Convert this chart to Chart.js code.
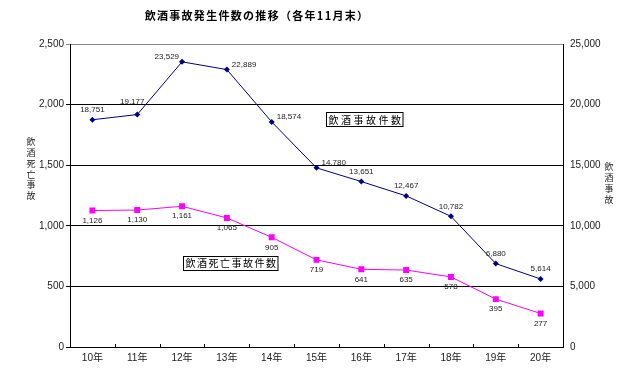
<!DOCTYPE html>
<html><head><meta charset="utf-8">
<script src="https://cdn.jsdelivr.net/npm/chart.js@4/dist/chart.umd.min.js"></script>
<style>html,body{margin:0;padding:0;background:#fff;}#wrap{width:642px;height:385px;}</style>
</head><body><div id="wrap"><canvas id="c" width="642" height="385"></canvas></div>
<script>
const categories = ['10年','11年','12年','13年','14年','15年','16年','17年','18年','19年','20年'];
const accidentCounts = [18751,19177,23529,22889,18574,14780,13651,12467,10782,6880,5614];
const fatalCounts = [1126,1130,1161,1065,905,719,641,635,578,395,277];
const leftTickValues = [0,500,1000,1500,2000,2500];
const rightTickValues = [0,5000,10000,15000,20000,25000];
const titleText = '飲酒事故発生件数の推移（各年11月末）';
const leftAxisTitle = '飲酒死亡事故';
const rightAxisTitle = '飲酒事故';
const accidentSeriesName = '飲酒事故件数';
const fatalSeriesName = '飲酒死亡事故件数';
const accidentLabelSide = ['above','aboveLeft','left','right','right','right','above','above','above','above','above'];

const FONT = '"Liberation Sans", "Noto Sans CJK JP", sans-serif';
const JFONT = '"Noto Sans CJK JP", sans-serif';
const fmt = v => v.toLocaleString('en-US');

const overlay = {
  id: 'overlay',
  afterDatasetsDraw(chart) {
    const ctx = chart.ctx;
    const xs = chart.scales.x, yl = chart.scales.y, yr = chart.scales.y2;
    const area = chart.chartArea;
    ctx.save();
    // inward x tick marks between categories
    ctx.strokeStyle = '#000'; ctx.lineWidth = 1;
    for (let i = 0; i < categories.length - 1; i++) {
      const px = Math.round((xs.getPixelForValue(i) + xs.getPixelForValue(i + 1)) / 2) + 0.5;
      ctx.beginPath(); ctx.moveTo(px, area.bottom); ctx.lineTo(px, area.bottom - 3); ctx.stroke();
    }
    // data labels
    ctx.fillStyle = '#222';
    ctx.font = '8px ' + FONT;
    ctx.textBaseline = 'middle';
    const m1 = chart.getDatasetMeta(1);
    m1.data.forEach((pt, i) => {
      const side = accidentLabelSide[i];
      const t = fmt(accidentCounts[i]);
      if (side === 'left') { ctx.textAlign = 'right'; ctx.fillText(t, pt.x - 3, pt.y - 5); }
      else if (side === 'right') { ctx.textAlign = 'left'; ctx.fillText(t, pt.x + 5, pt.y - 5); }
      else if (side === 'aboveLeft') { ctx.textAlign = 'center'; ctx.fillText(t, pt.x - 5, pt.y - 13); }
      else { ctx.textAlign = 'center'; ctx.fillText(t, pt.x, pt.y - 10); }
    });
    const m0 = chart.getDatasetMeta(0);
    m0.data.forEach((pt, i) => {
      ctx.textAlign = 'center';
      ctx.fillText(fmt(fatalCounts[i]), pt.x, pt.y + 10);
    });
    // series name boxes
    const box = (text, cx, cy, spacing) => {
      ctx.font = '10px ' + JFONT;
      ctx.letterSpacing = spacing + 'px';
      const w = ctx.measureText(text).width - spacing;
      const bw = w + 4, bh = 14;
      const bx = Math.round(cx - bw / 2) + 0.5, by = Math.round(cy - bh / 2) + 0.5;
      ctx.fillStyle = '#fff'; ctx.fillRect(bx, by, bw, bh);
      ctx.strokeStyle = '#000'; ctx.lineWidth = 1; ctx.strokeRect(bx, by, bw, bh);
      ctx.fillStyle = '#000'; ctx.textAlign = 'left'; ctx.textBaseline = 'middle';
      ctx.fillText(text, bx + 2, cy + 1);
      ctx.letterSpacing = '0px';
    };
    box(accidentSeriesName, xs.getPixelForValue(6) + 3, yr.getPixelForValue(18800), 2.5);
    box(fatalSeriesName, xs.getPixelForValue(3) + 3, yl.getPixelForValue(697), 1.5);
    // title
    ctx.font = 'bold 11px ' + JFONT;
    ctx.letterSpacing = '1.3px';
    ctx.fillStyle = '#000'; ctx.textAlign = 'center'; ctx.textBaseline = 'middle';
    ctx.fillText(titleText, 257, 16);
    ctx.letterSpacing = '0px';
    // vertical axis titles
    ctx.font = '9px ' + JFONT;
    ctx.fillStyle = '#222';
    [...leftAxisTitle].forEach((ch, i) => ctx.fillText(ch, 31, 142 + i * 10.7));
    [...rightAxisTitle].forEach((ch, i) => ctx.fillText(ch, 609, 167 + i * 10.7));
    ctx.restore();
  }
};

new Chart(document.getElementById('c'), {
  type: 'line',
  data: {
    labels: categories,
    datasets: [
      { label: fatalSeriesName, data: fatalCounts, yAxisID: 'y',
        borderColor: '#FF00FF', backgroundColor: '#FF00FF', borderWidth: 1,
        pointStyle: 'rect', pointRadius: 4.2, pointBorderWidth: 0, tension: 0 },
      { label: accidentSeriesName, data: accidentCounts, yAxisID: 'y2',
        borderColor: '#000080', backgroundColor: '#000080', borderWidth: 1,
        pointStyle: 'rectRot', pointRadius: 3, pointBorderWidth: 0, tension: 0 }
    ]
  },
  options: {
    responsive: false, devicePixelRatio: 1, animation: false,
    layout: { padding: { top: 44, left: 0, right: 0, bottom: 0 } },
    plugins: { legend: { display: false }, tooltip: { enabled: false }, title: { display: false } },
    scales: {
      x: {
        offset: true,
        grid: { display: false, drawTicks: false },
        border: { display: true, color: '#000', width: 1 },
        ticks: { font: { size: 10, family: FONT }, color: '#222', padding: 5 },
        afterFit: s => { s.height = 38; }
      },
      y: {
        position: 'left', min: 0, max: 2500,
        afterBuildTicks: s => { s.ticks = leftTickValues.map(v => ({ value: v })); },
        grid: { color: c => (c.tick && c.tick.value === 2500) ? '#8a8a8a' : '#000', lineWidth: 1, tickLength: 4 },
        border: { display: true, color: '#000', width: 1 },
        ticks: { font: { size: 10, family: FONT }, color: '#222', padding: 2, callback: v => fmt(v) },
        afterFit: s => { s.width = 70; }
      },
      y2: {
        position: 'right', min: 0, max: 25000,
        afterBuildTicks: s => { s.ticks = rightTickValues.map(v => ({ value: v })); },
        grid: { drawOnChartArea: false, drawTicks: false },
        border: { display: true, color: '#000', width: 1 },
        ticks: { font: { size: 10, family: FONT }, color: '#222', padding: 7, callback: v => fmt(v) },
        afterFit: s => { s.width = 79; }
      }
    }
  },
  plugins: [overlay]
});
</script></body></html>
